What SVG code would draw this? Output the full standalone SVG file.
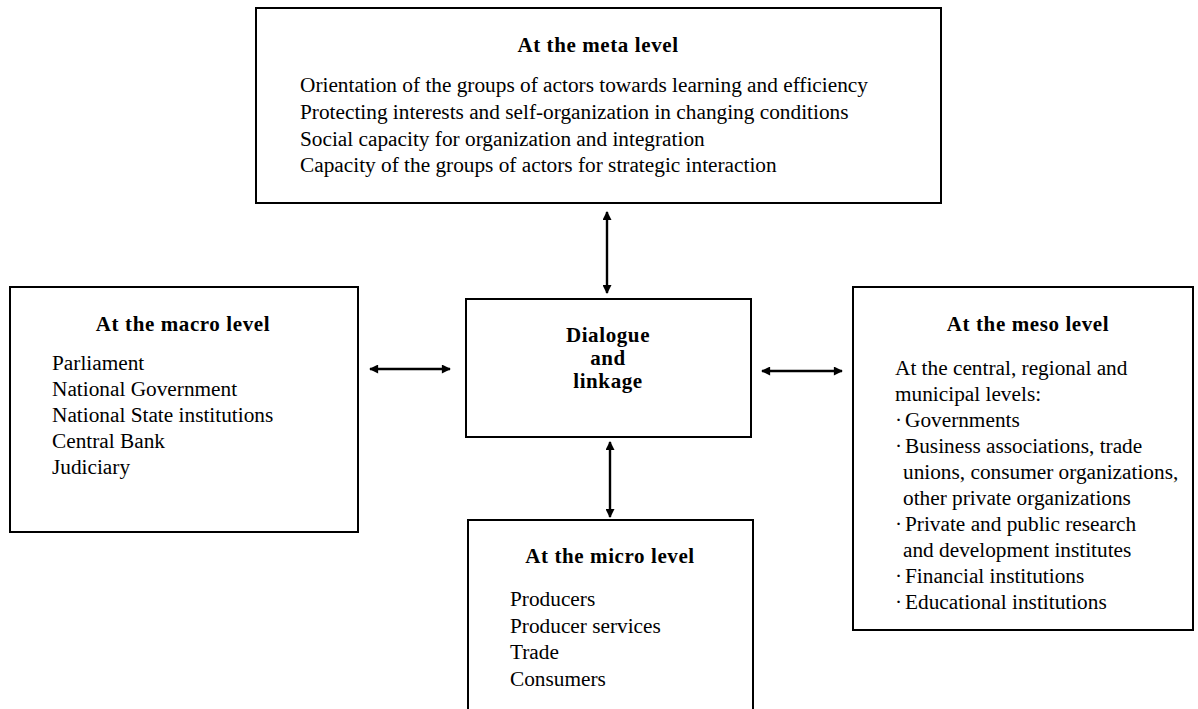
<svg xmlns="http://www.w3.org/2000/svg" width="1198" height="709" viewBox="0 0 1198 709">
  <style>
    .box { fill: #fff; stroke: #000; stroke-width: 2; }
    .ttl { font-family: "Liberation Serif", "Times New Roman", serif; font-weight: bold; font-size: 21px; letter-spacing: 0.6px; fill: #000; }
    .txt { font-family: "Liberation Serif", "Times New Roman", serif; font-size: 21.3px; fill: #000; }
    .mid { text-anchor: middle; }
    .link { stroke: #000; stroke-width: 2.4; fill: none; marker-start: url(#head); marker-end: url(#head); }
  </style>
  <defs>
    <marker id="head" viewBox="0 0 10 10" refX="9" refY="5" markerWidth="11" markerHeight="9" markerUnits="userSpaceOnUse" orient="auto-start-reverse">
      <path d="M0,0 L10,5 L0,10 z" fill="#000"/>
    </marker>
  </defs>
  <rect width="1198" height="709" fill="#fff"/>

  <!-- connectors -->
  <g id="connectors">
    <line class="link" x1="607" y1="212" x2="607" y2="293"/>
    <line class="link" x1="370" y1="369" x2="450" y2="369"/>
    <line class="link" x1="762" y1="371" x2="842" y2="371"/>
    <line class="link" x1="610" y1="442" x2="610" y2="517"/>
  </g>

  <!-- meta level -->
  <g id="meta">
    <rect class="box" x="256" y="8" width="685" height="195"/>
    <text class="ttl mid" x="598" y="52">At the meta level</text>
    <text class="txt" x="300" y="92">Orientation of the groups of actors towards learning and efficiency</text>
    <text class="txt" x="300" y="119">Protecting interests and self-organization in changing conditions</text>
    <text class="txt" x="300" y="146">Social capacity for organization and integration</text>
    <text class="txt" x="300" y="172">Capacity of the groups of actors for strategic interaction</text>
  </g>

  <!-- macro level -->
  <g id="macro">
    <rect class="box" x="10" y="287" width="348" height="245"/>
    <text class="ttl mid" x="183" y="331">At the macro level</text>
    <text class="txt" x="52" y="370">Parliament</text>
    <text class="txt" x="52" y="396">National Government</text>
    <text class="txt" x="52" y="422">National State institutions</text>
    <text class="txt" x="52" y="448">Central Bank</text>
    <text class="txt" x="52" y="474">Judiciary</text>
  </g>

  <!-- centre -->
  <g id="dialogue">
    <rect class="box" x="466" y="299" width="285" height="138"/>
    <text class="ttl mid" x="608" y="342">Dialogue</text>
    <text class="ttl mid" x="608" y="365">and</text>
    <text class="ttl mid" x="608" y="388">linkage</text>
  </g>

  <!-- meso level -->
  <g id="meso">
    <rect class="box" x="853" y="287" width="340" height="343"/>
    <text class="ttl mid" x="1028" y="331">At the meso level</text>
    <text class="txt" x="895" y="375">At the central, regional and</text>
    <text class="txt" x="895" y="401">municipal levels:</text>
    <text class="txt" x="895" y="427">·</text><text class="txt" x="905" y="427">Governments</text>
    <text class="txt" x="895" y="453">·</text><text class="txt" x="905" y="453">Business associations, trade</text>
    <text class="txt" x="903" y="479">unions, consumer organizations,</text>
    <text class="txt" x="903" y="505">other private organizations</text>
    <text class="txt" x="895" y="531">·</text><text class="txt" x="905" y="531">Private and public research</text>
    <text class="txt" x="903" y="557">and development institutes</text>
    <text class="txt" x="895" y="583">·</text><text class="txt" x="905" y="583">Financial institutions</text>
    <text class="txt" x="895" y="609">·</text><text class="txt" x="905" y="609">Educational institutions</text>
  </g>

  <!-- micro level -->
  <g id="micro">
    <rect class="box" x="468" y="520" width="285" height="200"/>
    <text class="ttl mid" x="610" y="563">At the micro level</text>
    <text class="txt" x="510" y="606">Producers</text>
    <text class="txt" x="510" y="633">Producer services</text>
    <text class="txt" x="510" y="659">Trade</text>
    <text class="txt" x="510" y="686">Consumers</text>
  </g>
</svg>
